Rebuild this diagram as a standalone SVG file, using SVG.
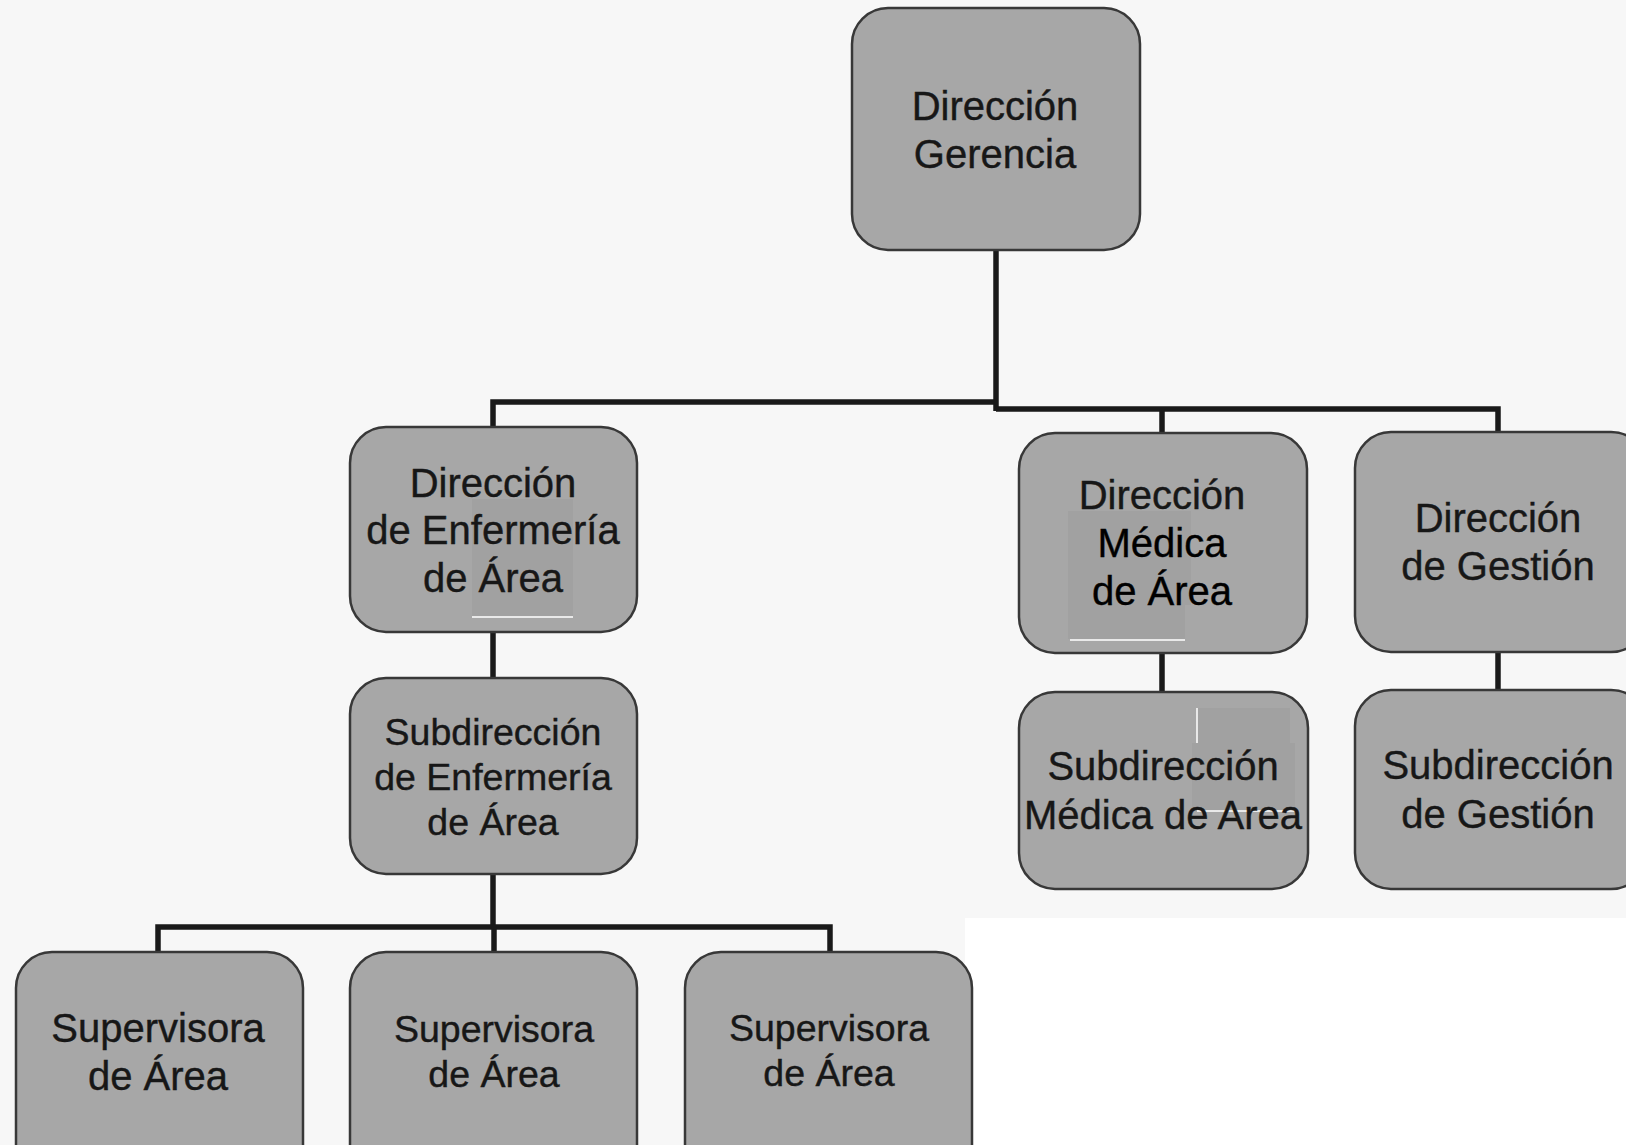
<svg xmlns="http://www.w3.org/2000/svg" width="1626" height="1145" viewBox="0 0 1626 1145">
<style>
.box{fill:#a7a7a7;stroke:#383838;stroke-width:2.5}
.patch{fill:#a1a1a1}
.wl{stroke:#ffffff;stroke-width:1.5;fill:none}
.t{font-family:"Liberation Sans",Arial,sans-serif;font-size:40px;fill:#171717;stroke:#171717;stroke-width:0.4;text-anchor:middle}
.s{font-size:37.5px}
.k{fill:#000;stroke:#000}
.con{fill:none;stroke:#1a1a1a;stroke-width:5.5;stroke-linejoin:miter}
</style>
<rect x="0" y="0" width="1626" height="1145" fill="#f7f7f7"/>
<rect x="965" y="918" width="661" height="227" fill="#ffffff"/>
<g id="connectors" class="con">
<path d="M996,250 V411"/>
<path d="M493,427 V402 H996"/>
<path d="M996,409 H1498 V432"/>
<path d="M1162,409 V433"/>
<path d="M493,632 V678"/>
<path d="M1162,653 V692"/>
<path d="M1498,652 V690"/>
<path d="M493,874 V927"/>
<path d="M158,952 V927 H830 V952"/>
<path d="M494,927 V952"/>
</g>
<g id="direccion-gerencia">
<rect class="box" x="852" y="8" width="288" height="242" rx="36"/>
<text class="t" x="995" y="120">Dirección</text>
<text class="t" x="995" y="168">Gerencia</text>
</g>
<g id="direccion-enfermeria">
<rect class="box" x="350" y="427" width="287" height="205" rx="36"/>
<rect class="patch" x="472" y="499" width="101" height="117"/>
<path class="wl" d="M472,617 H573"/>
<text class="t" x="493" y="497">Dirección</text>
<text class="t" x="493" y="544">de Enfermería</text>
<text class="t" x="493" y="592">de Área</text>
</g>
<g id="direccion-medica">
<rect class="box" x="1019" y="433" width="288" height="220" rx="36"/>
<rect class="patch" x="1068" y="511" width="123" height="94"/>
<rect class="patch" x="1068" y="605" width="117" height="34"/>
<path class="wl" d="M1070,640 H1185"/>
<text class="t" x="1162" y="509">Dirección</text>
<text class="t k" x="1162" y="557">Médica</text>
<text class="t k" x="1162" y="605">de Área</text>
</g>
<g id="direccion-gestion">
<rect class="box" x="1355" y="432" width="292" height="220" rx="36"/>
<text class="t" x="1498" y="532">Dirección</text>
<text class="t" x="1498" y="580">de Gestión</text>
</g>
<g id="subdireccion-enfermeria">
<rect class="box" x="350" y="678" width="287" height="196" rx="36"/>
<text class="t s" x="493" y="745">Subdirección</text>
<text class="t s" x="493" y="790">de Enfermería</text>
<text class="t s" x="493" y="835">de Área</text>
</g>
<g id="subdireccion-medica">
<rect class="box" x="1019" y="692" width="289" height="197" rx="36"/>
<rect class="patch" x="1197" y="708" width="93" height="36"/>
<rect class="patch" x="1192" y="743" width="103" height="68"/>
<path class="wl" d="M1197,708 V743 M1197,811 H1295"/>
<text class="t" x="1163" y="780">Subdirección</text>
<text class="t" x="1163" y="829">Médica de Area</text>
</g>
<g id="subdireccion-gestion">
<rect class="box" x="1355" y="690" width="292" height="199" rx="36"/>
<text class="t" x="1498" y="779">Subdirección</text>
<text class="t" x="1498" y="828">de Gestión</text>
</g>
<g id="supervisora-1">
<rect class="box" x="16" y="952" width="287" height="230" rx="36"/>
<text class="t" x="158" y="1042">Supervisora</text>
<text class="t" x="158" y="1090">de Área</text>
</g>
<g id="supervisora-2">
<rect class="box" x="350" y="952" width="287" height="230" rx="36"/>
<text class="t s" x="494" y="1042">Supervisora</text>
<text class="t s" x="494" y="1087">de Área</text>
</g>
<g id="supervisora-3">
<rect class="box" x="685" y="952" width="287" height="230" rx="36"/>
<text class="t s" x="829" y="1041">Supervisora</text>
<text class="t s" x="829" y="1086">de Área</text>
</g>
</svg>
